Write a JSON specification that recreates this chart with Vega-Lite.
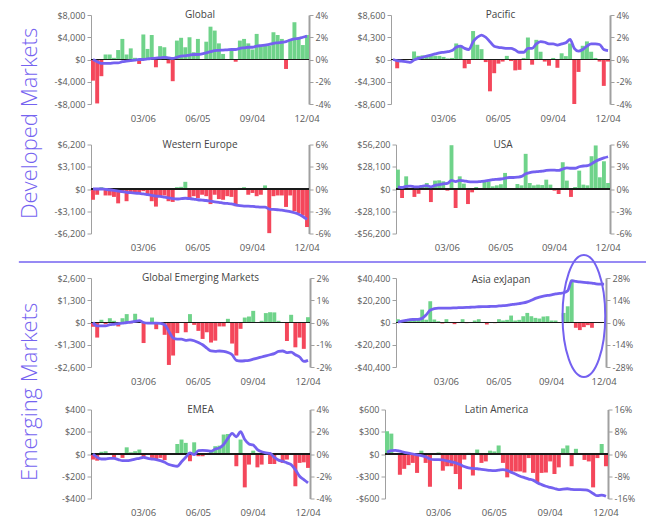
{
"$schema":"https://vega.github.io/schema/vega-lite/v6.json",
"background":"white",
"padding":{"left":18,"top":10,"right":5,"bottom":3},
"config":{
 "view":{"stroke":null},
 "font":"Open Sans",
 "title":{"font":"Open Sans","fontSize":10,"fontWeight":"normal","color":"#444444","offset":-9},
 "axis":{"labelFont":"Open Sans","labelFontSize":9,"labelColor":"#5a5a5a","domainColor":"#a0a0a0","tickColor":"#a0a0a0","tickSize":4,"grid":false,"labelOverlap":false},
 "axisX":{"labelAngle":0,"ticks":false,"domain":false,"labelPadding":9,"labelFontSize":9.5},
 "axisRight":{"domainWidth":2},
 "scale":{"bandPaddingInner":0.06,"bandPaddingOuter":0}
},
"datasets":{
"G":[{"d":"12/13","f":-3800,"c":0},{"d":"12/20","f":-7900,"c":-0.2},{"d":"12/27","f":-3000,"c":-0.35},{"d":"01/03","f":900,"c":-0.35},{"d":"01/10","f":900,"c":-0.35},{"d":"01/17","f":300,"c":-0.3},{"d":"01/24","f":1700,"c":-0.3},{"d":"01/31","f":3700,"c":-0.2},{"d":"02/07","f":900,"c":-0.15},{"d":"02/14","f":2000,"c":-0.1},{"d":"02/21","f":300,"c":-0.05},{"d":"02/28","f":-800,"c":0},{"d":"03/06","f":4500,"c":0},{"d":"03/13","f":1900,"c":0.05},{"d":"03/20","f":4400,"c":0.1},{"d":"03/27","f":-1400,"c":0.13},{"d":"04/03","f":2400,"c":0.15},{"d":"04/10","f":2200,"c":0.2},{"d":"04/17","f":-700,"c":0.15},{"d":"04/24","f":-3900,"c":0.1},{"d":"05/01","f":3400,"c":0.2},{"d":"05/08","f":3900,"c":0.3},{"d":"05/15","f":2200,"c":0.33},{"d":"05/22","f":4000,"c":0.4},{"d":"05/29","f":1300,"c":0.45},{"d":"06/05","f":3700,"c":0.45},{"d":"06/12","f":0,"c":0.5},{"d":"06/19","f":3200,"c":0.6},{"d":"06/26","f":5900,"c":0.7},{"d":"07/03","f":5200,"c":0.8},{"d":"07/10","f":2900,"c":0.82},{"d":"07/17","f":1000,"c":0.85},{"d":"07/24","f":0,"c":0.87},{"d":"07/31","f":1800,"c":0.9},{"d":"08/07","f":-400,"c":0.9},{"d":"08/14","f":3400,"c":1.0},{"d":"08/21","f":3700,"c":1.05},{"d":"08/28","f":2900,"c":1.1},{"d":"09/04","f":1800,"c":1.1},{"d":"09/11","f":4600,"c":1.2},{"d":"09/18","f":2500,"c":1.25},{"d":"09/25","f":2500,"c":1.3},{"d":"10/02","f":2500,"c":1.35},{"d":"10/09","f":4900,"c":1.45},{"d":"10/16","f":4400,"c":1.5},{"d":"10/23","f":3700,"c":1.55},{"d":"10/30","f":-1700,"c":1.6},{"d":"11/06","f":3600,"c":1.75},{"d":"11/13","f":6700,"c":1.85},{"d":"11/20","f":4000,"c":1.9},{"d":"11/27","f":2600,"c":2.0},{"d":"12/04","f":4400,"c":2.1}],
"P":[{"d":"12/13","f":0,"c":0},{"d":"12/20","f":-1700,"c":-0.1},{"d":"12/27","f":0,"c":-0.15},{"d":"01/03","f":0,"c":-0.2},{"d":"01/10","f":0,"c":-0.25},{"d":"01/17","f":1550,"c":-0.05},{"d":"01/24","f":700,"c":0.1},{"d":"01/31","f":800,"c":0.2},{"d":"02/07","f":800,"c":0.3},{"d":"02/14","f":800,"c":0.4},{"d":"02/21","f":700,"c":0.5},{"d":"02/28","f":700,"c":0.6},{"d":"03/06","f":500,"c":0.65},{"d":"03/13","f":200,"c":0.7},{"d":"03/20","f":300,"c":0.8},{"d":"03/27","f":3100,"c":1.1},{"d":"04/03","f":2700,"c":1.2},{"d":"04/10","f":-1700,"c":1.0},{"d":"04/17","f":-850,"c":0.9},{"d":"04/24","f":5500,"c":1.6},{"d":"05/01","f":2850,"c":2.0},{"d":"05/08","f":2000,"c":2.2},{"d":"05/15","f":-500,"c":2.0},{"d":"05/22","f":-6150,"c":1.6},{"d":"05/29","f":-2650,"c":1.2},{"d":"06/05","f":-800,"c":1.1},{"d":"06/12","f":-400,"c":1.05},{"d":"06/19","f":700,"c":1.0},{"d":"06/26","f":-300,"c":1.0},{"d":"07/03","f":-2100,"c":0.85},{"d":"07/10","f":-2000,"c":0.65},{"d":"07/17","f":300,"c":0.65},{"d":"07/24","f":4250,"c":1.0},{"d":"07/31","f":-1000,"c":1.0},{"d":"08/07","f":3800,"c":1.4},{"d":"08/14","f":1500,"c":1.6},{"d":"08/21","f":-400,"c":1.55},{"d":"08/28","f":-1200,"c":1.4},{"d":"09/04","f":300,"c":1.4},{"d":"09/11","f":-1600,"c":1.3},{"d":"09/18","f":1200,"c":1.4},{"d":"09/25","f":650,"c":1.5},{"d":"10/02","f":3100,"c":1.8},{"d":"10/09","f":-8600,"c":1.0},{"d":"10/16","f":-2400,"c":0.75},{"d":"10/23","f":2650,"c":0.9},{"d":"10/30","f":3500,"c":1.2},{"d":"11/06","f":1500,"c":1.4},{"d":"11/13","f":300,"c":1.4},{"d":"11/20","f":-400,"c":1.35},{"d":"11/27","f":-5100,"c":0.9},{"d":"12/04","f":-400,"c":0.8}],
"WE":[{"d":"12/13","f":-1500,"c":0},{"d":"12/20","f":-800,"c":0},{"d":"12/27","f":250,"c":0},{"d":"01/03","f":-900,"c":-0.05},{"d":"01/10","f":-900,"c":-0.1},{"d":"01/17","f":-1100,"c":-0.2},{"d":"01/24","f":-2000,"c":-0.3},{"d":"01/31","f":-550,"c":-0.35},{"d":"02/07","f":-1700,"c":-0.45},{"d":"02/14","f":-550,"c":-0.5},{"d":"02/21","f":-650,"c":-0.55},{"d":"02/28","f":-650,"c":-0.6},{"d":"03/06","f":-300,"c":-0.65},{"d":"03/13","f":-700,"c":-0.75},{"d":"03/20","f":-1700,"c":-0.85},{"d":"03/27","f":-2450,"c":-0.95},{"d":"04/03","f":-1100,"c":-1.0},{"d":"04/10","f":-900,"c":-1.1},{"d":"04/17","f":-1700,"c":-1.2},{"d":"04/24","f":-1800,"c":-1.3},{"d":"05/01","f":250,"c":-1.35},{"d":"05/08","f":300,"c":-1.3},{"d":"05/15","f":1000,"c":-1.25},{"d":"05/22","f":-1400,"c":-1.3},{"d":"05/29","f":-1000,"c":-1.35},{"d":"06/05","f":-1250,"c":-1.45},{"d":"06/12","f":-800,"c":-1.5},{"d":"06/19","f":-1000,"c":-1.55},{"d":"06/26","f":-2100,"c":-1.65},{"d":"07/03","f":-800,"c":-1.75},{"d":"07/10","f":-1400,"c":-1.8},{"d":"07/17","f":-1500,"c":-1.9},{"d":"07/24","f":-1000,"c":-1.95},{"d":"07/31","f":-1100,"c":-2.0},{"d":"08/07","f":-2400,"c":-2.15},{"d":"08/14","f":150,"c":-2.25},{"d":"08/21","f":250,"c":-2.3},{"d":"08/28","f":-800,"c":-2.3},{"d":"09/04","f":-550,"c":-2.35},{"d":"09/11","f":-1000,"c":-2.4},{"d":"09/18","f":-800,"c":-2.45},{"d":"09/25","f":500,"c":-2.45},{"d":"10/02","f":-6150,"c":-2.7},{"d":"10/09","f":-1000,"c":-2.75},{"d":"10/16","f":-900,"c":-2.8},{"d":"10/23","f":-900,"c":-2.85},{"d":"10/30","f":-2500,"c":-2.95},{"d":"11/06","f":-900,"c":-3.05},{"d":"11/13","f":-3100,"c":-3.2},{"d":"11/20","f":-3350,"c":-3.4},{"d":"11/27","f":-3700,"c":-3.7},{"d":"12/04","f":-5300,"c":-4.1}],
"US":[{"d":"12/13","f":24500,"c":0.3},{"d":"12/20","f":-11400,"c":0.2},{"d":"12/27","f":16000,"c":0.35},{"d":"01/03","f":1000,"c":0.4},{"d":"01/10","f":-10000,"c":0.3},{"d":"01/17","f":-6000,"c":0.3},{"d":"01/24","f":3400,"c":0.4},{"d":"01/31","f":7600,"c":0.45},{"d":"02/07","f":-16500,"c":0.3},{"d":"02/14","f":10600,"c":0.5},{"d":"02/21","f":11000,"c":0.6},{"d":"02/28","f":9700,"c":0.7},{"d":"03/06","f":-2100,"c":0.75},{"d":"03/13","f":55300,"c":1.15},{"d":"03/20","f":-24000,"c":1.0},{"d":"03/27","f":16000,"c":1.15},{"d":"04/03","f":6800,"c":1.1},{"d":"04/10","f":-19000,"c":1.0},{"d":"04/17","f":-4200,"c":0.95},{"d":"04/24","f":2500,"c":0.95},{"d":"05/01","f":1000,"c":1.0},{"d":"05/08","f":9700,"c":1.05},{"d":"05/15","f":9700,"c":1.15},{"d":"05/22","f":3400,"c":1.25},{"d":"05/29","f":4600,"c":1.3},{"d":"06/05","f":6000,"c":1.35},{"d":"06/12","f":20300,"c":1.45},{"d":"06/19","f":0,"c":1.55},{"d":"06/26","f":-1000,"c":1.55},{"d":"07/03","f":6300,"c":1.6},{"d":"07/10","f":4600,"c":1.7},{"d":"07/17","f":44400,"c":2.05},{"d":"07/24","f":7600,"c":2.2},{"d":"07/31","f":4600,"c":2.3},{"d":"08/07","f":5500,"c":2.35},{"d":"08/14","f":5000,"c":2.4},{"d":"08/21","f":11800,"c":2.5},{"d":"08/28","f":5500,"c":2.55},{"d":"09/04","f":-2100,"c":2.55},{"d":"09/11","f":-6300,"c":2.5},{"d":"09/18","f":33800,"c":2.7},{"d":"09/25","f":10600,"c":2.85},{"d":"10/02","f":-10000,"c":2.8},{"d":"10/09","f":2500,"c":2.8},{"d":"10/16","f":23200,"c":3.0},{"d":"10/23","f":5500,"c":3.1},{"d":"10/30","f":4600,"c":3.15},{"d":"11/06","f":41400,"c":3.4},{"d":"11/13","f":55000,"c":3.75},{"d":"11/20","f":14800,"c":4.0},{"d":"11/27","f":35000,"c":4.2},{"d":"12/04","f":7600,"c":4.35}],
"GEM":[{"d":"12/13","f":-250,"c":0},{"d":"12/20","f":-880,"c":-0.15},{"d":"12/27","f":160,"c":-0.15},{"d":"01/03","f":-100,"c":-0.15},{"d":"01/10","f":250,"c":-0.1},{"d":"01/17","f":100,"c":-0.08},{"d":"01/24","f":-230,"c":-0.05},{"d":"01/31","f":250,"c":-0.03},{"d":"02/07","f":490,"c":0},{"d":"02/14","f":-50,"c":0.02},{"d":"02/21","f":510,"c":0.05},{"d":"02/28","f":0,"c":0.08},{"d":"03/06","f":-1200,"c":0},{"d":"03/13","f":0,"c":-0.03},{"d":"03/20","f":290,"c":-0.03},{"d":"03/27","f":-390,"c":-0.03},{"d":"04/03","f":0,"c":-0.04},{"d":"04/10","f":-720,"c":-0.1},{"d":"04/17","f":-2480,"c":-0.4},{"d":"04/24","f":-1930,"c":-0.7},{"d":"05/01","f":-620,"c":-0.75},{"d":"05/08","f":0,"c":-0.75},{"d":"05/15","f":-570,"c":-0.8},{"d":"05/22","f":490,"c":-0.78},{"d":"05/29","f":-140,"c":-0.82},{"d":"06/05","f":-490,"c":-0.9},{"d":"06/12","f":-960,"c":-1.0},{"d":"06/19","f":-570,"c":-1.15},{"d":"06/26","f":-1170,"c":-1.28},{"d":"07/03","f":-1060,"c":-1.3},{"d":"07/10","f":-230,"c":-1.28},{"d":"07/17","f":-230,"c":-1.3},{"d":"07/24","f":215,"c":-1.35},{"d":"07/31","f":-1230,"c":-1.45},{"d":"08/07","f":-1930,"c":-1.7},{"d":"08/14","f":-370,"c":-1.73},{"d":"08/21","f":290,"c":-1.72},{"d":"08/28","f":350,"c":-1.7},{"d":"09/04","f":680,"c":-1.65},{"d":"09/11","f":0,"c":-1.6},{"d":"09/18","f":100,"c":-1.55},{"d":"09/25","f":550,"c":-1.5},{"d":"10/02","f":600,"c":-1.45},{"d":"10/09","f":590,"c":-1.4},{"d":"10/16","f":100,"c":-1.3},{"d":"10/23","f":0,"c":-1.28},{"d":"10/30","f":-1080,"c":-1.35},{"d":"11/06","f":450,"c":-1.33},{"d":"11/13","f":-1450,"c":-1.45},{"d":"11/20","f":-880,"c":-1.55},{"d":"11/27","f":-1540,"c":-1.75},{"d":"12/04","f":310,"c":-1.7}],
"AX":[{"d":"12/13","f":3000,"c":0.3},{"d":"12/20","f":1200,"c":0.8},{"d":"12/27","f":1800,"c":1.3},{"d":"01/03","f":2700,"c":1.8},{"d":"01/10","f":2700,"c":1.9},{"d":"01/17","f":2700,"c":2.0},{"d":"01/24","f":11700,"c":2.6},{"d":"01/31","f":2500,"c":4.8},{"d":"02/07","f":19300,"c":7.8},{"d":"02/14","f":2700,"c":8.7},{"d":"02/21","f":1200,"c":9.0},{"d":"02/28","f":-900,"c":9.0},{"d":"03/06","f":3000,"c":9.1},{"d":"03/13","f":-500,"c":9.1},{"d":"03/20","f":-1500,"c":9.2},{"d":"03/27","f":0,"c":9.3},{"d":"04/03","f":3000,"c":9.4},{"d":"04/10","f":-600,"c":9.5},{"d":"04/17","f":0,"c":9.6},{"d":"04/24","f":1800,"c":9.7},{"d":"05/01","f":3000,"c":9.9},{"d":"05/08","f":0,"c":10.0},{"d":"05/15","f":-1800,"c":10.0},{"d":"05/22","f":0,"c":10.1},{"d":"05/29","f":-600,"c":10.2},{"d":"06/05","f":3000,"c":10.4},{"d":"06/12","f":1800,"c":10.6},{"d":"06/19","f":2400,"c":10.8},{"d":"06/26","f":6300,"c":11.2},{"d":"07/03","f":1800,"c":11.6},{"d":"07/10","f":2400,"c":11.9},{"d":"07/17","f":5700,"c":12.3},{"d":"07/24","f":8700,"c":13.0},{"d":"07/31","f":5700,"c":14.0},{"d":"08/07","f":4200,"c":15.2},{"d":"08/14","f":3600,"c":16.0},{"d":"08/21","f":5400,"c":16.6},{"d":"08/28","f":5700,"c":17.0},{"d":"09/04","f":1800,"c":17.4},{"d":"09/11","f":1800,"c":18.0},{"d":"09/18","f":0,"c":18.3},{"d":"09/25","f":8700,"c":18.7},{"d":"10/02","f":14700,"c":20.0},{"d":"10/09","f":38800,"c":26.3},{"d":"10/16","f":-4800,"c":25.9},{"d":"10/23","f":-6900,"c":25.5},{"d":"10/30","f":-4200,"c":25.2,"e":5900},{"d":"11/06","f":-2400,"c":25.0},{"d":"11/13","f":-4800,"c":24.8},{"d":"11/20","f":0,"c":24.3},{"d":"11/27","f":-500,"c":24.1},{"d":"12/04","f":0,"c":24.1}],
"EM":[{"d":"12/13","f":-50,"c":0},{"d":"12/20","f":-60,"c":-0.3},{"d":"12/27","f":20,"c":-0.45},{"d":"01/03","f":25,"c":-0.45},{"d":"01/10","f":0,"c":-0.4},{"d":"01/17","f":-35,"c":-0.4},{"d":"01/24","f":0,"c":-0.5},{"d":"01/31","f":-35,"c":-0.6},{"d":"02/07","f":60,"c":-0.6},{"d":"02/14","f":15,"c":-0.55},{"d":"02/21","f":25,"c":-0.45},{"d":"02/28","f":40,"c":-0.4},{"d":"03/06","f":-30,"c":-0.3},{"d":"03/13","f":0,"c":-0.4},{"d":"03/20","f":-35,"c":-0.45},{"d":"03/27","f":-45,"c":-0.5},{"d":"04/03","f":-35,"c":-0.6},{"d":"04/10","f":-55,"c":-0.75},{"d":"04/17","f":0,"c":-0.95},{"d":"04/24","f":0,"c":-1.05},{"d":"05/01","f":90,"c":-1.1},{"d":"05/08","f":130,"c":-0.7},{"d":"05/15","f":100,"c":-0.3},{"d":"05/22","f":-65,"c":0.1},{"d":"05/29","f":105,"c":-0.05},{"d":"06/05","f":-20,"c":0.3},{"d":"06/12","f":-20,"c":0.32},{"d":"06/19","f":0,"c":0.3},{"d":"06/26","f":30,"c":0.25},{"d":"07/03","f":70,"c":0.45},{"d":"07/10","f":75,"c":0.55},{"d":"07/17","f":175,"c":0.85},{"d":"07/24","f":180,"c":1.4},{"d":"07/31","f":0,"c":1.85},{"d":"08/07","f":-110,"c":1.55},{"d":"08/14","f":130,"c":2.0},{"d":"08/21","f":-300,"c":1.3},{"d":"08/28","f":-95,"c":0.9},{"d":"09/04","f":30,"c":0.8},{"d":"09/11","f":-120,"c":0.4},{"d":"09/18","f":-95,"c":0.2},{"d":"09/25","f":0,"c":0.1},{"d":"10/02","f":-90,"c":0.05},{"d":"10/09","f":-90,"c":-0.3},{"d":"10/16","f":0,"c":-0.55},{"d":"10/23","f":-80,"c":-0.65},{"d":"10/30","f":-50,"c":-0.8},{"d":"11/06","f":0,"c":-0.95},{"d":"11/13","f":-290,"c":-1.4},{"d":"11/20","f":-80,"c":-2.0},{"d":"11/27","f":-75,"c":-2.3},{"d":"12/04","f":-125,"c":-2.6}],
"LA":[{"d":"12/13","f":307,"c":0.6},{"d":"12/20","f":275,"c":1.2},{"d":"12/27","f":0,"c":1.3},{"d":"01/03","f":-280,"c":1.0},{"d":"01/10","f":-200,"c":0.6},{"d":"01/17","f":-150,"c":0.3},{"d":"01/24","f":-120,"c":0},{"d":"01/31","f":-255,"c":-0.3},{"d":"02/07","f":45,"c":-0.6},{"d":"02/14","f":-120,"c":-1.0},{"d":"02/21","f":-440,"c":-1.8},{"d":"02/28","f":0,"c":-2.0},{"d":"03/06","f":20,"c":-2.0},{"d":"03/13","f":-225,"c":-2.1},{"d":"03/20","f":-165,"c":-2.5},{"d":"03/27","f":-165,"c":-2.8},{"d":"04/03","f":-270,"c":-3.2},{"d":"04/10","f":-475,"c":-3.8},{"d":"04/17","f":-75,"c":-4.5},{"d":"04/24","f":15,"c":-5.0},{"d":"05/01","f":-290,"c":-5.2},{"d":"05/08","f":60,"c":-5.3},{"d":"05/15","f":-120,"c":-5.5},{"d":"05/22","f":-100,"c":-5.7},{"d":"05/29","f":45,"c":-5.9},{"d":"06/05","f":35,"c":-6.0},{"d":"06/12","f":115,"c":-5.8},{"d":"06/19","f":-120,"c":-5.6},{"d":"06/26","f":-315,"c":-5.9},{"d":"07/03","f":-235,"c":-6.6},{"d":"07/10","f":-235,"c":-7.3},{"d":"07/17","f":-235,"c":-8.0},{"d":"07/24","f":-250,"c":-8.5},{"d":"07/31","f":-55,"c":-9.0},{"d":"08/07","f":-255,"c":-9.4},{"d":"08/14","f":-380,"c":-10.3},{"d":"08/21","f":-255,"c":-11.0},{"d":"08/28","f":-250,"c":-11.6},{"d":"09/04","f":-100,"c":-12.0},{"d":"09/11","f":-270,"c":-12.4},{"d":"09/18","f":-180,"c":-12.8},{"d":"09/25","f":75,"c":-12.6},{"d":"10/02","f":115,"c":-12.5},{"d":"10/09","f":-165,"c":-12.7},{"d":"10/16","f":70,"c":-12.8},{"d":"10/23","f":0,"c":-12.8},{"d":"10/30","f":-80,"c":-12.9},{"d":"11/06","f":-100,"c":-13.2},{"d":"11/13","f":-450,"c":-14.2},{"d":"11/20","f":-55,"c":-15.0},{"d":"11/27","f":135,"c":-14.8},{"d":"12/04","f":-165,"c":-15.2}]
},
"columns":1,
"align":"none",
"spacing":-12,
"resolve":{"scale":{"x":"independent","y":"independent"}},
"concat":[
{"title":{"text":"Developed Markets","orient":"left","fontSize":22,"fontWeight":300,"color":"#7563f0","offset":12,"dx":33,"font":"Open Sans"},
 "columns":1,"align":"none","spacing":16.5,
 "resolve":{"scale":{"x":"independent","y":"independent"}},
 "concat":[
 {"spacing":82,"bounds":"flush","resolve":{"scale":{"x":"independent","y":"independent"}},"hconcat":[
  {"title":"Global","width":218,"height":89,"data":{"name":"G"},"layer":[{"layer":[{"mark":{"type":"bar"},"encoding":{"x":{"field":"d","type":"ordinal","sort":null,"title":null,"axis":{"values":["03/06","06/05","09/04","12/04"]}},"y":{"field":"f","type":"quantitative","title":null,"scale":{"domain":[-8000,8000],"nice":false},"axis":{"orient":"left","values":[-8000,-4000,0,4000,8000],"labelExpr":"datum.value < 0 ? '-$' + format(-datum.value, ',') : '$' + format(datum.value, ',')"}},"color":{"condition":{"test":"datum.f >= 0","value":"#6fd38a"},"value":"#f4475b"}}},{"mark":{"type":"rule","color":"#1a1a1a","strokeWidth":1.2},"encoding":{"y":{"datum":0,"axis":null}}}],"resolve":{"axis":{"y":"independent"}}},{"mark":{"type":"line","color":"#7461f0","strokeWidth":2.8,"interpolate":"monotone"},"encoding":{"x":{"field":"d","type":"ordinal","sort":null},"y":{"field":"c","type":"quantitative","title":null,"scale":{"domain":[-4,4],"nice":false},"axis":{"orient":"right","values":[-4,-2,0,2,4],"labelExpr":"datum.value + '%'"}}}}],"resolve":{"scale":{"y":"independent"}}},
  {"title":"Pacific","width":219,"height":89,"data":{"name":"P"},"layer":[{"layer":[{"mark":{"type":"bar"},"encoding":{"x":{"field":"d","type":"ordinal","sort":null,"title":null,"axis":{"values":["03/06","06/05","09/04","12/04"]}},"y":{"field":"f","type":"quantitative","title":null,"scale":{"domain":[-8600,8600],"nice":false},"axis":{"orient":"left","values":[-8600,-4300,0,4300,8600],"labelExpr":"datum.value < 0 ? '-$' + format(-datum.value, ',') : '$' + format(datum.value, ',')"}},"color":{"condition":{"test":"datum.f >= 0","value":"#6fd38a"},"value":"#f4475b"}}},{"mark":{"type":"rule","color":"#1a1a1a","strokeWidth":1.2},"encoding":{"y":{"datum":0,"axis":null}}}],"resolve":{"axis":{"y":"independent"}}},{"mark":{"type":"line","color":"#7461f0","strokeWidth":2.8,"interpolate":"monotone"},"encoding":{"x":{"field":"d","type":"ordinal","sort":null},"y":{"field":"c","type":"quantitative","title":null,"scale":{"domain":[-4,4],"nice":false},"axis":{"orient":"right","values":[-4,-2,0,2,4],"labelExpr":"datum.value + '%'"}}}}],"resolve":{"scale":{"y":"independent"}}}
 ]},
 {"spacing":87,"bounds":"flush","resolve":{"scale":{"x":"independent","y":"independent"}},"hconcat":[
  {"title":"Western Europe","width":218,"height":89,"data":{"name":"WE"},"layer":[{"layer":[{"mark":{"type":"bar"},"encoding":{"x":{"field":"d","type":"ordinal","sort":null,"title":null,"axis":{"values":["03/06","06/05","09/04","12/04"]}},"y":{"field":"f","type":"quantitative","title":null,"scale":{"domain":[-6200,6200],"nice":false},"axis":{"orient":"left","values":[-6200,-3100,0,3100,6200],"labelExpr":"datum.value < 0 ? '-$' + format(-datum.value, ',') : '$' + format(datum.value, ',')"}},"color":{"condition":{"test":"datum.f >= 0","value":"#6fd38a"},"value":"#f4475b"}}},{"mark":{"type":"rule","color":"#1a1a1a","strokeWidth":1.2},"encoding":{"y":{"datum":0,"axis":null}}}],"resolve":{"axis":{"y":"independent"}}},{"mark":{"type":"line","color":"#7461f0","strokeWidth":2.8,"interpolate":"monotone"},"encoding":{"x":{"field":"d","type":"ordinal","sort":null},"y":{"field":"c","type":"quantitative","title":null,"scale":{"domain":[-6,6],"nice":false},"axis":{"orient":"right","values":[-6,-3,0,3,6],"labelExpr":"datum.value + '%'"}}}}],"resolve":{"scale":{"y":"independent"}}},
  {"title":"USA","width":214,"height":89,"data":{"name":"US"},"layer":[{"layer":[{"mark":{"type":"bar"},"encoding":{"x":{"field":"d","type":"ordinal","sort":null,"title":null,"axis":{"values":["03/06","06/05","09/04","12/04"]}},"y":{"field":"f","type":"quantitative","title":null,"scale":{"domain":[-56200,56200],"nice":false},"axis":{"orient":"left","values":[-56200,-28100,0,28100,56200],"labelExpr":"datum.value < 0 ? '-$' + format(-datum.value, ',') : '$' + format(datum.value, ',')"}},"color":{"condition":{"test":"datum.f >= 0","value":"#6fd38a"},"value":"#f4475b"}}},{"mark":{"type":"rule","color":"#1a1a1a","strokeWidth":1.2},"encoding":{"y":{"datum":0,"axis":null}}}],"resolve":{"axis":{"y":"independent"}}},{"mark":{"type":"line","color":"#7461f0","strokeWidth":2.8,"interpolate":"monotone"},"encoding":{"x":{"field":"d","type":"ordinal","sort":null},"y":{"field":"c","type":"quantitative","title":null,"scale":{"domain":[-6,6],"nice":false},"axis":{"orient":"right","values":[-6,-3,0,3,6],"labelExpr":"datum.value + '%'"}}}}],"resolve":{"scale":{"y":"independent"}}}
 ]}
 ]},
{"width":555,"height":22,"data":{"values":[{}]},"mark":{"type":"rule","color":"#7563f0","strokeWidth":1.5},"encoding":{"x":{"datum":-0.13,"type":"quantitative","scale":{"domain":[0,1]},"axis":null},"x2":{"datum":1},"y":{"datum":0,"type":"quantitative","scale":{"domain":[0,1]},"axis":null}}},
{"title":{"text":"Emerging Markets","orient":"left","fontSize":22,"fontWeight":300,"color":"#7563f0","offset":12,"dx":36,"font":"Open Sans"},
 "columns":1,"align":"none","spacing":18.5,
 "resolve":{"scale":{"x":"independent","y":"independent"}},
 "concat":[
 {"spacing":86,"bounds":"flush","resolve":{"scale":{"x":"independent","y":"independent"}},"hconcat":[
  {"title":"Global Emerging Markets","width":219,"height":89,"data":{"name":"GEM"},"layer":[{"layer":[{"mark":{"type":"bar"},"encoding":{"x":{"field":"d","type":"ordinal","sort":null,"title":null,"axis":{"values":["03/06","06/05","09/04","12/04"]}},"y":{"field":"f","type":"quantitative","title":null,"scale":{"domain":[-2600,2600],"nice":false},"axis":{"orient":"left","values":[-2600,-1300,0,1300,2600],"labelExpr":"datum.value < 0 ? '-$' + format(-datum.value, ',') : '$' + format(datum.value, ',')"}},"color":{"condition":{"test":"datum.f >= 0","value":"#6fd38a"},"value":"#f4475b"}}},{"mark":{"type":"rule","color":"#1a1a1a","strokeWidth":1.2},"encoding":{"y":{"datum":0,"axis":null}}}],"resolve":{"axis":{"y":"independent"}}},{"mark":{"type":"line","color":"#7461f0","strokeWidth":2.8,"interpolate":"monotone"},"encoding":{"x":{"field":"d","type":"ordinal","sort":null},"y":{"field":"c","type":"quantitative","title":null,"scale":{"domain":[-2,2],"nice":false},"axis":{"orient":"right","values":[-2,-1,0,1,2],"labelExpr":"datum.value + '%'"}}}}],"resolve":{"scale":{"y":"independent"}}},
  {"title":{"text":"Asia exJapan","offset":-34},"width":210,"height":89,"data":{"name":"AX"},"layer":[{"layer":[{"mark":{"type":"bar"},"encoding":{"x":{"field":"d","type":"ordinal","sort":null,"title":null,"axis":{"values":["03/06","06/05","09/04","12/04"]}},"y":{"field":"f","type":"quantitative","title":null,"scale":{"domain":[-40400,40400],"nice":false},"axis":{"orient":"left","values":[-40400,-20200,0,20200,40400],"labelExpr":"datum.value < 0 ? '-$' + format(-datum.value, ',') : '$' + format(datum.value, ',')"}},"color":{"condition":{"test":"datum.f >= 0","value":"#6fd38a"},"value":"#f4475b"}}},{"mark":{"type":"rule","color":"#1a1a1a","strokeWidth":1.2},"encoding":{"y":{"datum":0,"axis":null}}},{"mark":{"type":"point","shape":"M 0.35 0 C 0.35 0.5523 0.1933 1 0 1 C -0.1933 1 -0.35 0.5523 -0.35 0 C -0.35 -0.5523 -0.1933 -1 0 -1 C 0.1933 -1 0.35 -0.5523 0.35 0 Z","size":14884,"filled":false,"color":"#7461f0","strokeWidth":2,"opacity":1},"encoding":{"x":{"field":"d","type":"ordinal","sort":null},"y":{"field":"e","type":"quantitative","axis":null}}}],"resolve":{"axis":{"y":"independent"}}},{"mark":{"type":"line","color":"#7461f0","strokeWidth":2.8,"interpolate":"monotone"},"encoding":{"x":{"field":"d","type":"ordinal","sort":null},"y":{"field":"c","type":"quantitative","title":null,"scale":{"domain":[-28,28],"nice":false},"axis":{"orient":"right","values":[-28,-14,0,14,28],"labelExpr":"datum.value + '%'"}}}}],"resolve":{"scale":{"y":"independent"}}}
 ]},
 {"spacing":75,"bounds":"flush","resolve":{"scale":{"x":"independent","y":"independent"}},"hconcat":[
  {"title":"EMEA","width":219,"height":89,"data":{"name":"EM"},"layer":[{"layer":[{"mark":{"type":"bar"},"encoding":{"x":{"field":"d","type":"ordinal","sort":null,"title":null,"axis":{"values":["03/06","06/05","09/04","12/04"]}},"y":{"field":"f","type":"quantitative","title":null,"scale":{"domain":[-400,400],"nice":false},"axis":{"orient":"left","values":[-400,-200,0,200,400],"labelExpr":"datum.value < 0 ? '-$' + format(-datum.value, ',') : '$' + format(datum.value, ',')"}},"color":{"condition":{"test":"datum.f >= 0","value":"#6fd38a"},"value":"#f4475b"}}},{"mark":{"type":"rule","color":"#1a1a1a","strokeWidth":1.2},"encoding":{"y":{"datum":0,"axis":null}}}],"resolve":{"axis":{"y":"independent"}}},{"mark":{"type":"line","color":"#7461f0","strokeWidth":2.8,"interpolate":"monotone"},"encoding":{"x":{"field":"d","type":"ordinal","sort":null},"y":{"field":"c","type":"quantitative","title":null,"scale":{"domain":[-4,4],"nice":false},"axis":{"orient":"right","values":[-4,-2,0,2,4],"labelExpr":"datum.value + '%'"}}}}],"resolve":{"scale":{"y":"independent"}}},
  {"title":"Latin America","width":223,"height":89,"data":{"name":"LA"},"layer":[{"layer":[{"mark":{"type":"bar"},"encoding":{"x":{"field":"d","type":"ordinal","sort":null,"title":null,"axis":{"values":["03/06","06/05","09/04","12/04"]}},"y":{"field":"f","type":"quantitative","title":null,"scale":{"domain":[-600,600],"nice":false},"axis":{"orient":"left","values":[-600,-300,0,300,600],"labelExpr":"datum.value < 0 ? '-$' + format(-datum.value, ',') : '$' + format(datum.value, ',')"}},"color":{"condition":{"test":"datum.f >= 0","value":"#6fd38a"},"value":"#f4475b"}}},{"mark":{"type":"rule","color":"#1a1a1a","strokeWidth":1.2},"encoding":{"y":{"datum":0,"axis":null}}}],"resolve":{"axis":{"y":"independent"}}},{"mark":{"type":"line","color":"#7461f0","strokeWidth":2.8,"interpolate":"monotone"},"encoding":{"x":{"field":"d","type":"ordinal","sort":null},"y":{"field":"c","type":"quantitative","title":null,"scale":{"domain":[-16,16],"nice":false},"axis":{"orient":"right","values":[-16,-8,0,8,16],"labelExpr":"datum.value + '%'"}}}}],"resolve":{"scale":{"y":"independent"}}}
 ]}
 ]}
]
}
